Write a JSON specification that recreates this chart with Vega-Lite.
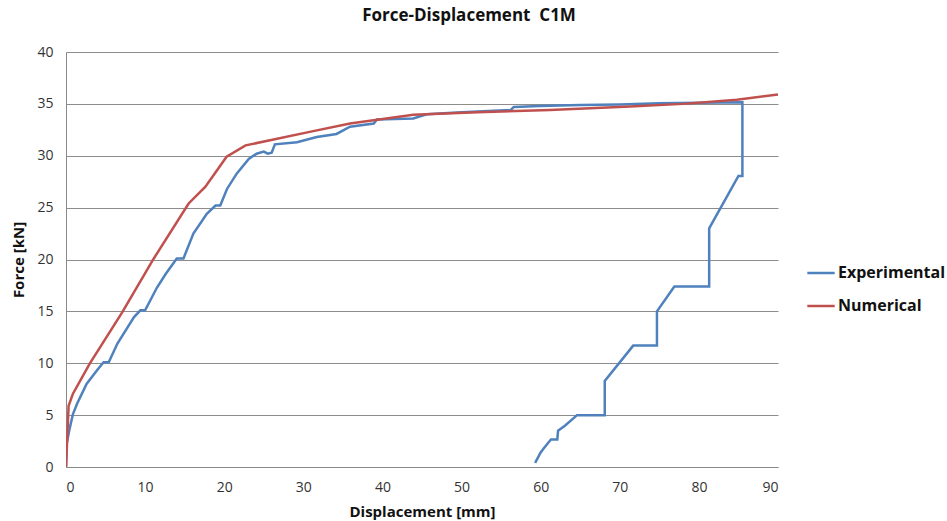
{
  "$schema": "https://vega.github.io/schema/vega-lite/v6.json",
  "autosize": {"type": "none"},
  "width": 712,
  "height": 415,
  "padding": {"left": 66, "top": 52, "right": 169, "bottom": 54},
  "background": "white",
  "title": {"text": "Force-Displacement\u00a0\u00a0C1M", "font": "Open Sans", "fontSize": 17, "fontWeight": "bold", "color": "#111", "anchor": "middle", "offset": 20, "dx": 47},
  "config": {"view": {"stroke": null}, "font": "Open Sans"},
  "data": {"values": [
    {"s": "Experimental", "i": 0, "d": 0, "f": 0},
    {"s": "Experimental", "i": 1, "d": 0.1, "f": 2.3},
    {"s": "Experimental", "i": 2, "d": 0.46, "f": 3.7},
    {"s": "Experimental", "i": 3, "d": 0.88, "f": 5.1},
    {"s": "Experimental", "i": 4, "d": 1.4, "f": 6.1},
    {"s": "Experimental", "i": 5, "d": 2.6, "f": 8.0},
    {"s": "Experimental", "i": 6, "d": 3.9, "f": 9.3},
    {"s": "Experimental", "i": 7, "d": 4.75, "f": 10.1},
    {"s": "Experimental", "i": 8, "d": 5.4, "f": 10.1},
    {"s": "Experimental", "i": 9, "d": 6.5, "f": 11.9},
    {"s": "Experimental", "i": 10, "d": 8.6, "f": 14.45},
    {"s": "Experimental", "i": 11, "d": 9.4, "f": 15.1},
    {"s": "Experimental", "i": 12, "d": 10.0, "f": 15.1},
    {"s": "Experimental", "i": 13, "d": 11.5, "f": 17.3},
    {"s": "Experimental", "i": 14, "d": 12.6, "f": 18.6},
    {"s": "Experimental", "i": 15, "d": 14.0, "f": 20.1},
    {"s": "Experimental", "i": 16, "d": 14.85, "f": 20.1},
    {"s": "Experimental", "i": 17, "d": 16.1, "f": 22.5},
    {"s": "Experimental", "i": 18, "d": 17.8, "f": 24.4},
    {"s": "Experimental", "i": 19, "d": 18.9, "f": 25.2},
    {"s": "Experimental", "i": 20, "d": 19.5, "f": 25.2},
    {"s": "Experimental", "i": 21, "d": 20.35, "f": 26.8},
    {"s": "Experimental", "i": 22, "d": 21.6, "f": 28.3},
    {"s": "Experimental", "i": 23, "d": 23.1, "f": 29.7},
    {"s": "Experimental", "i": 24, "d": 24.1, "f": 30.2},
    {"s": "Experimental", "i": 25, "d": 25.0, "f": 30.4},
    {"s": "Experimental", "i": 26, "d": 25.5, "f": 30.2},
    {"s": "Experimental", "i": 27, "d": 26.0, "f": 30.3},
    {"s": "Experimental", "i": 28, "d": 26.4, "f": 31.1},
    {"s": "Experimental", "i": 29, "d": 29.2, "f": 31.3},
    {"s": "Experimental", "i": 30, "d": 31.7, "f": 31.8},
    {"s": "Experimental", "i": 31, "d": 34.2, "f": 32.1},
    {"s": "Experimental", "i": 32, "d": 35.9, "f": 32.8},
    {"s": "Experimental", "i": 33, "d": 38.9, "f": 33.1},
    {"s": "Experimental", "i": 34, "d": 39.3, "f": 33.5},
    {"s": "Experimental", "i": 35, "d": 43.9, "f": 33.6},
    {"s": "Experimental", "i": 36, "d": 45.6, "f": 34.0},
    {"s": "Experimental", "i": 37, "d": 50.0, "f": 34.2},
    {"s": "Experimental", "i": 38, "d": 56.2, "f": 34.4},
    {"s": "Experimental", "i": 39, "d": 56.6, "f": 34.7},
    {"s": "Experimental", "i": 40, "d": 59.9, "f": 34.8},
    {"s": "Experimental", "i": 41, "d": 65.0, "f": 34.9},
    {"s": "Experimental", "i": 42, "d": 70.0, "f": 34.95},
    {"s": "Experimental", "i": 43, "d": 75.0, "f": 35.05},
    {"s": "Experimental", "i": 44, "d": 80.0, "f": 35.1},
    {"s": "Experimental", "i": 45, "d": 85.5, "f": 35.15},
    {"s": "Experimental", "i": 46, "d": 85.5, "f": 28.06},
    {"s": "Experimental", "i": 47, "d": 85.0, "f": 28.06},
    {"s": "Experimental", "i": 48, "d": 81.3, "f": 23.0},
    {"s": "Experimental", "i": 49, "d": 81.3, "f": 17.4},
    {"s": "Experimental", "i": 50, "d": 76.9, "f": 17.4},
    {"s": "Experimental", "i": 51, "d": 74.7, "f": 15.0},
    {"s": "Experimental", "i": 52, "d": 74.7, "f": 11.7},
    {"s": "Experimental", "i": 53, "d": 71.7, "f": 11.7},
    {"s": "Experimental", "i": 54, "d": 68.1, "f": 8.3},
    {"s": "Experimental", "i": 55, "d": 68.1, "f": 5.0},
    {"s": "Experimental", "i": 56, "d": 64.6, "f": 5.0},
    {"s": "Experimental", "i": 57, "d": 63.1, "f": 4.0},
    {"s": "Experimental", "i": 58, "d": 62.2, "f": 3.5},
    {"s": "Experimental", "i": 59, "d": 62.1, "f": 2.65},
    {"s": "Experimental", "i": 60, "d": 61.3, "f": 2.65},
    {"s": "Experimental", "i": 61, "d": 60.4, "f": 1.8},
    {"s": "Experimental", "i": 62, "d": 60.0, "f": 1.4},
    {"s": "Experimental", "i": 63, "d": 59.3, "f": 0.4},
    {"s": "Numerical", "i": 0, "d": 0, "f": 0},
    {"s": "Numerical", "i": 1, "d": 0.33, "f": 5.9},
    {"s": "Numerical", "i": 2, "d": 0.88, "f": 7.07},
    {"s": "Numerical", "i": 3, "d": 3.0, "f": 9.96},
    {"s": "Numerical", "i": 4, "d": 7.1, "f": 14.9},
    {"s": "Numerical", "i": 5, "d": 11.1, "f": 20.1},
    {"s": "Numerical", "i": 6, "d": 15.5, "f": 25.4},
    {"s": "Numerical", "i": 7, "d": 17.6, "f": 27.0},
    {"s": "Numerical", "i": 8, "d": 20.3, "f": 29.9},
    {"s": "Numerical", "i": 9, "d": 22.7, "f": 31.0},
    {"s": "Numerical", "i": 10, "d": 30.8, "f": 32.3},
    {"s": "Numerical", "i": 11, "d": 35.9, "f": 33.1},
    {"s": "Numerical", "i": 12, "d": 43.9, "f": 33.95},
    {"s": "Numerical", "i": 13, "d": 52.0, "f": 34.2},
    {"s": "Numerical", "i": 14, "d": 61.2, "f": 34.4},
    {"s": "Numerical", "i": 15, "d": 71.3, "f": 34.75},
    {"s": "Numerical", "i": 16, "d": 78.0, "f": 35.0},
    {"s": "Numerical", "i": 17, "d": 84.8, "f": 35.4},
    {"s": "Numerical", "i": 18, "d": 90.0, "f": 35.9}
  ]},
  "mark": {"type": "line", "strokeWidth": 2.5, "clip": true},
  "encoding": {
    "x": {"field": "d", "type": "quantitative", "scale": {"domain": [0, 90], "nice": false},
      "axis": {"title": "Displacement [mm]", "values": [0,10,20,30,40,50,60,70,80,90], "grid": false,
        "domainColor": "#888", "ticks": false, "labelFontSize": 14, "labelColor": "#333",
        "labelPadding": 13, "titleFontSize": 15, "titleFontWeight": "bold", "titleColor": "#111", "titlePadding": 10}},
    "y": {"field": "f", "type": "quantitative", "scale": {"domain": [0, 40], "nice": false},
      "axis": {"title": "Force [kN]", "values": [0,5,10,15,20,25,30,35,40], "grid": true, "gridColor": "#8c8c8c",
        "gridWidth": 1, "domainColor": "#888", "ticks": false, "labelFontSize": 14, "labelColor": "#333",
        "labelPadding": 13, "titleFontSize": 15, "titleFontWeight": "bold", "titleColor": "#111", "titlePadding": 10}},
    "color": {"field": "s", "type": "nominal",
      "scale": {"domain": ["Experimental", "Numerical"], "range": ["#4F81BD", "#C0504D"]},
      "legend": {"title": null, "orient": "none", "legendX": 740, "legendY": 206, "symbolType": "stroke",
        "symbolSize": 750, "symbolStrokeWidth": 2.5, "labelFontSize": 16, "labelFontWeight": "bold",
        "labelColor": "#111", "rowPadding": 10, "labelOffset": 2}},
    "order": {"field": "i", "type": "quantitative"}
  }
}
